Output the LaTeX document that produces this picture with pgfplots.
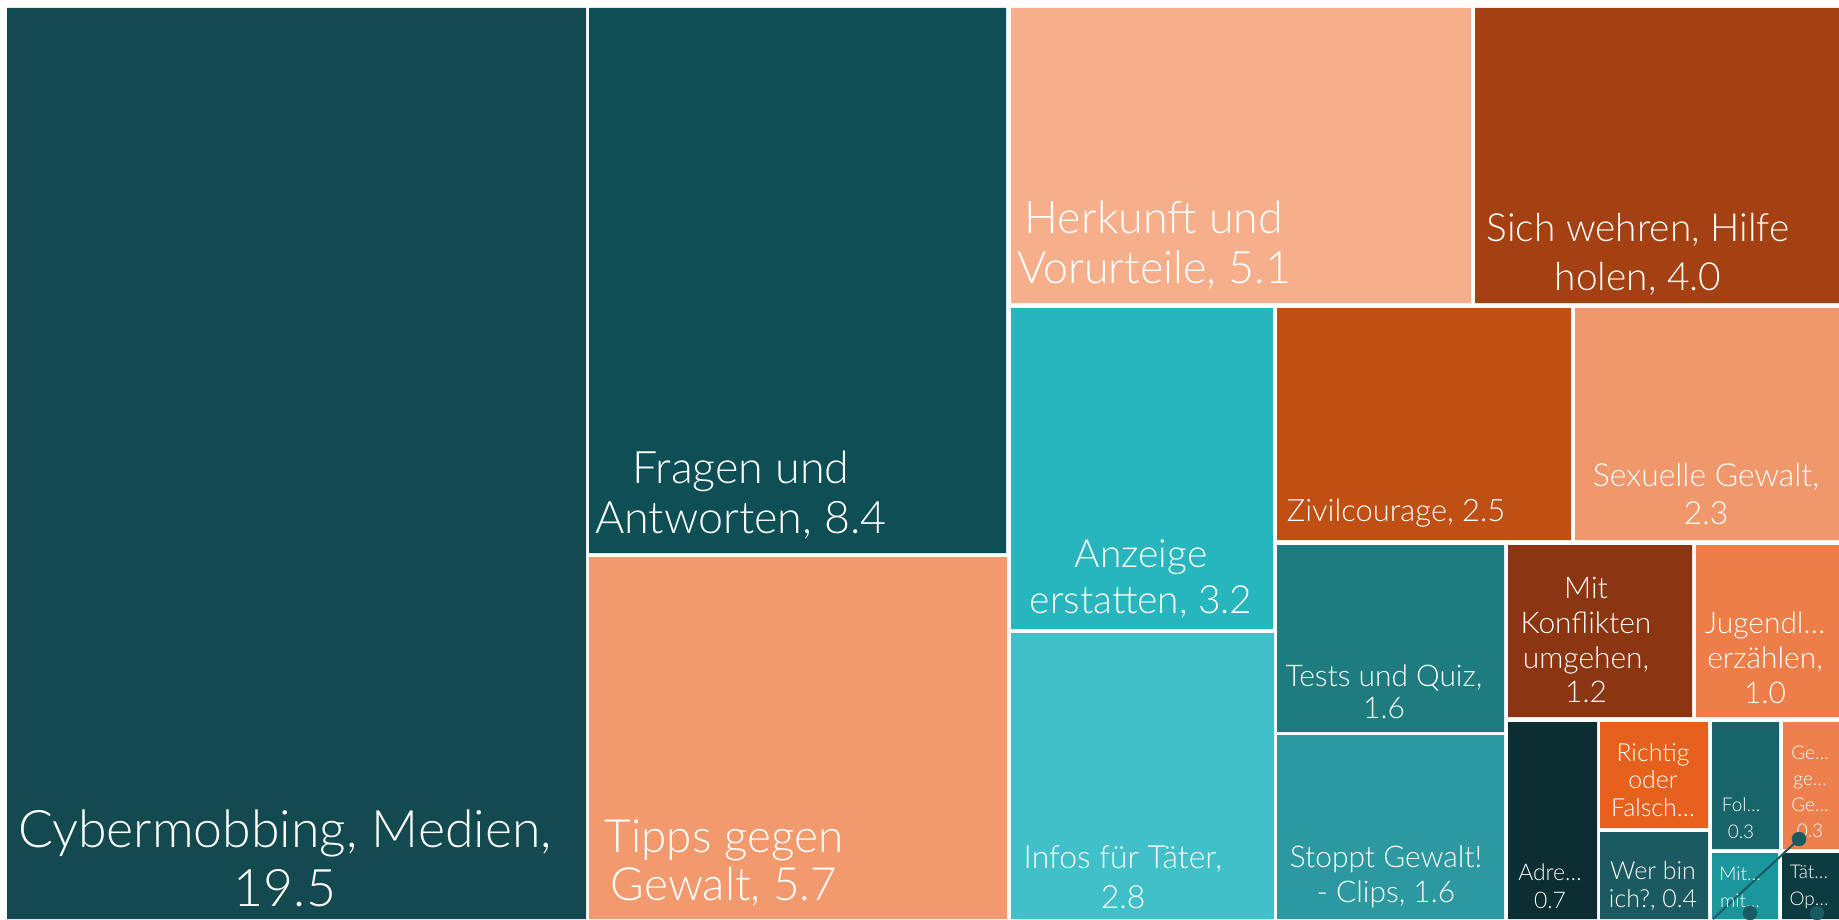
\documentclass[border=0pt]{standalone}
\usepackage{pgfplots}
\pgfplotsset{compat=1.18}
\usepackage{fontspec}
\setmainfont{Lato Light}

\definecolor{cCyber}{HTML}{124A4F}
\definecolor{cFragen}{HTML}{0D4F55}
\definecolor{cTipps}{HTML}{F29A6E}
\definecolor{cHerk}{HTML}{F6AE8B}
\definecolor{cWehren}{HTML}{A54012}
\definecolor{cAnz}{HTML}{27B6BE}
\definecolor{cInfos}{HTML}{41C0CA}
\definecolor{cZivil}{HTML}{C04F13}
\definecolor{cSex}{HTML}{F0976C}
\definecolor{cTests}{HTML}{1E7C81}
\definecolor{cClips}{HTML}{2C99A1}
\definecolor{cKonf}{HTML}{8C3611}
\definecolor{cJug}{HTML}{ED7E4A}
\definecolor{cAdre}{HTML}{0A2E31}
\definecolor{cRicht}{HTML}{E5611D}
\definecolor{cWer}{HTML}{1A5A60}
\definecolor{cFol}{HTML}{17656A}
\definecolor{cGe}{HTML}{ED804C}
\definecolor{cMit}{HTML}{1A979D}
\definecolor{cTaet}{HTML}{0B3B40}

% one treemap tile: x0, x1, y0 (top), y1 (bottom), colour
\newcommand{\tile}[5]{\addplot[fill=#5, draw=none] coordinates {(#1,#3) (#2,#3) (#2,#4) (#1,#4) (#1,#3)};}
% label: x, y, font size, line spacing, text
\newcommand{\lbl}[5]{\node[text=white, align=center, inner sep=0pt, font=\fontsize{#3}{#4}\selectfont] at (axis cs:#1,#2) {#5};}

\begin{document}
\begin{tikzpicture}
\begin{axis}[
    width=1839bp, height=919bp,
    scale only axis,
    xmin=0, xmax=1839,
    ymin=0, ymax=919,
    y dir=reverse,
    hide axis,
]
\tile{0}{1839}{0}{919}{white}
\tile{7}{586}{8}{919}{cCyber}
\tile{589}{1006}{8}{553}{cFragen}
\tile{589}{1007}{557}{919}{cTipps}
\tile{1011}{1471}{8}{303}{cHerk}
\tile{1475}{1839}{8}{303}{cWehren}
\tile{1011}{1273}{308}{629}{cAnz}
\tile{1011}{1274}{633}{919}{cInfos}
\tile{1277}{1571}{308}{540}{cZivil}
\tile{1575}{1839}{308}{540}{cSex}
\tile{1277}{1504}{545}{732}{cTests}
\tile{1277}{1504}{735}{919}{cClips}
\tile{1508}{1692}{545}{717}{cKonf}
\tile{1696}{1839}{545}{717}{cJug}
\tile{1508}{1597}{722}{919}{cAdre}
\tile{1600}{1708}{722}{828}{cRicht}
\tile{1600}{1708}{832}{919}{cWer}
\tile{1712}{1779}{722}{849}{cFol}
\tile{1783}{1839}{722}{849}{cGe}
\tile{1712}{1778}{853}{919}{cMit}
\tile{1782}{1839}{853}{919}{cTaet}

\addplot[color=cWer, line width=2bp] coordinates {(1799,839) (1713,919)};
\addplot[only marks, mark=*, mark size=7bp, color=cWer] coordinates {(1799,839) (1750,913) (1817,913)};

\lbl{285}{858}{52}{59}{Cybermobbing, Medien,\\19.5}
\lbl{741}{495}{45}{51}{Fragen und\\Antworten, 8.4}
\lbl{724}{863}{46}{49}{Tipps gegen\\Gewalt, 5.7}
\lbl{1154}{245}{45}{51}{Herkunft und\\Vorurteile, 5.1}
\lbl{1638}{254}{39}{49}{Sich wehren, Hilfe\\holen, 4.0}
\lbl{1141}{579}{39}{47}{Anzeige\\erstatten, 3.2}
\lbl{1123}{877}{32}{40}{Infos für Täter,\\2.8}
\lbl{1396}{513}{31}{36}{Zivilcourage, 2.5}
\lbl{1706}{494}{32}{38}{Sexuelle Gewalt,\\2.3}
\lbl{1384}{692}{30}{32}{Tests und Quiz,\\1.6}
\lbl{1386}{877}{30}{35}{Stoppt Gewalt!\\- Clips, 1.6}
\lbl{1586}{640}{30}{35}{Mit\\Konflikten\\umgehen,\\1.2}
\lbl{1765}{658}{30}{35}{Jugendl\ldots\\erzählen,\\1.0}
\lbl{1550}{886}{23}{28}{Adre\ldots\\0.7}
\lbl{1653}{780}{25}{28}{Richtig\\oder\\Falsch\ldots}
\lbl{1653}{886}{25}{28}{Wer bin\\ich?, 0.4}
\lbl{1741}{818}{19}{27}{Fol\ldots\\0.3}
\lbl{1810}{792}{19}{26}{Ge\ldots\\ge\ldots\\Ge\ldots\\0.3}
\lbl{1740}{887}{19}{27}{Mit\ldots\\mit\ldots}
\lbl{1809}{887}{19}{27}{Tät\ldots\\Op\ldots}
\end{axis}
\pgfresetboundingbox
\path[use as bounding box] (current axis.south west) rectangle (current axis.north east);
\end{tikzpicture}
\end{document}
